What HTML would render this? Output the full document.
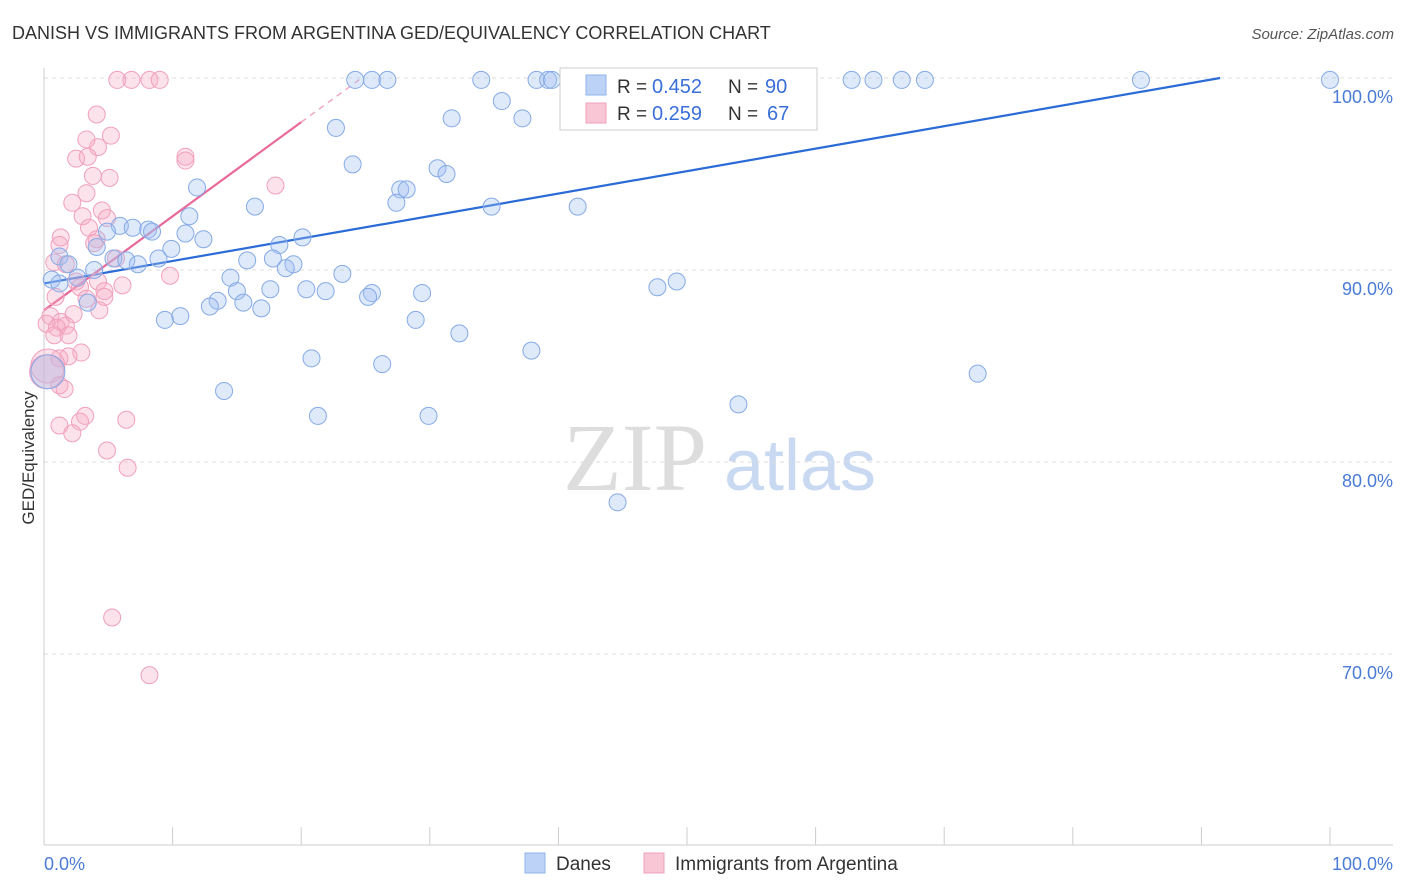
<!DOCTYPE html>
<html><head><meta charset="utf-8">
<style>
body{margin:0;background:#fff;font-family:"Liberation Sans",sans-serif;}
svg{display:block}
</style></head>
<body>
<svg id="chart" width="1406" height="892">
<text x="12" y="39" font-size="18" fill="#333">DANISH VS IMMIGRANTS FROM ARGENTINA GED/EQUIVALENCY CORRELATION CHART</text>
<text x="1394" y="39" font-size="15" fill="#555" font-style="italic" text-anchor="end">Source: ZipAtlas.com</text>
<text x="34" y="458" font-size="17" fill="#333" text-anchor="middle" transform="rotate(-90 34 458)">GED/Equivalency</text>
<g>
<text x="635" y="490" font-size="96" fill="#ddd" font-family="Liberation Serif, serif" text-anchor="middle">ZIP</text>
<text x="800" y="490" font-size="72" fill="#c9d9f2" text-anchor="middle">atlas</text>
</g>
<g id="grid"></g><g id="axes"></g><g id="lines"></g><g id="pts"></g>
<g>
<rect x="560" y="68" width="257" height="62" fill="#fff" stroke="#ccc"/>
<rect x="586" y="75" width="20" height="20" fill="#bcd3f7" stroke="#8fb3ea"/>
<text x="617" y="93" font-size="19" fill="#333">R =</text>
<text x="652" y="93" font-size="20" fill="#3a6fd8">0.452</text>
<text x="728" y="93" font-size="19" fill="#333">N =</text>
<text x="765" y="93" font-size="20" fill="#3a6fd8">90</text>
<rect x="586" y="103" width="20" height="20" fill="#f9c6d6" stroke="#f0a0bb"/>
<text x="617" y="120" font-size="19" fill="#333">R =</text>
<text x="652" y="120" font-size="20" fill="#3a6fd8">0.259</text>
<text x="728" y="120" font-size="19" fill="#333">N =</text>
<text x="767" y="120" font-size="20" fill="#3a6fd8">67</text>
</g>
<g>
<rect x="525" y="853" width="20" height="20" fill="#bcd3f7" stroke="#8fb3ea"/>
<text x="556" y="870" font-size="19" fill="#333">Danes</text>
<rect x="644" y="853" width="20" height="20" fill="#f9c6d6" stroke="#f0a0bb"/>
<text x="675" y="870" font-size="19" fill="#333">Immigrants from Argentina</text>
</g>
</svg>
<script>
const yTicks=[100,90,80,70];
const xTickLabels=["0.0%","100.0%"];
const danesX=[24.2,25.5,26.7,34.0,38.3,39.2,39.5,44.8,52.1,52.6,58.3,62.8,64.5,66.7,68.5,85.3,100,35.6,31.7,37.2,22.7,24.0,30.6,31.3,11.9,27.7,28.2,27.4,16.4,34.8,41.5,11.3,5.9,6.9,8.1,8.4,4.9,11.0,12.4,9.9,4.1,18.3,20.1,1.2,1.9,5.4,6.4,7.3,8.9,15.8,17.8,19.4,18.8,3.9,2.6,14.5,23.2,0.6,1.2,17.6,15.0,20.4,21.9,25.5,25.2,29.4,13.5,15.5,12.9,16.9,3.4,47.7,49.2,9.4,10.6,28.9,32.3,20.8,37.9,26.3,72.6,0.3,14.0,54.0,21.3,29.9,44.6];
const danesY=[99.9,99.9,99.9,99.9,99.9,99.9,99.9,99.9,99.9,99.9,99.9,99.9,99.9,99.9,99.9,99.9,99.9,98.8,97.9,97.9,97.4,95.5,95.3,95.0,94.3,94.2,94.2,93.5,93.3,93.3,93.3,92.8,92.3,92.2,92.1,92.0,92.0,91.9,91.6,91.1,91.2,91.3,91.7,90.7,90.3,90.6,90.5,90.3,90.6,90.5,90.6,90.3,90.1,90.0,89.6,89.6,89.8,89.5,89.3,89.0,88.9,89.0,88.9,88.8,88.6,88.8,88.4,88.3,88.1,88.0,88.3,89.1,89.4,87.4,87.6,87.4,86.7,85.4,85.8,85.1,84.6,84.7,83.7,83.0,82.4,82.4,77.9];
const argX=[5.7,6.8,8.2,9.0,4.1,5.2,4.2,3.3,2.5,3.4,11.0,11.0,18.0,5.1,3.8,3.3,2.2,4.5,3.0,4.9,3.5,1.3,4.1,1.2,3.9,5.6,0.8,1.7,9.8,2.5,4.2,2.8,6.1,4.7,4.7,3.3,0.9,4.3,2.3,0.5,1.3,1.7,0.2,1.0,0.8,1.9,2.9,1.9,1.2,0.3,0.2,1.2,1.6,3.2,1.2,2.8,6.4,2.2,4.9,6.5,5.3,8.2];
const argY=[99.9,99.9,99.9,99.9,98.1,97.0,96.4,96.8,95.8,95.9,95.9,95.7,94.4,94.8,94.9,94.0,93.5,93.1,92.8,92.7,92.2,91.7,91.6,91.3,91.4,90.6,90.4,90.3,89.7,89.4,89.4,89.1,89.2,88.9,88.6,88.5,88.6,87.9,87.7,87.6,87.3,87.1,87.2,87.0,86.6,86.6,85.7,85.5,85.4,85.0,84.7,84.0,83.8,82.4,81.9,82.1,82.2,81.5,80.6,79.7,71.9,68.9];
const danesTrend=[89.3,0.117];
const argTrend=[87.9,0.49];
const NS='http://www.w3.org/2000/svg';
const xs=v=>44+v*12.86, ys=v=>78+(100-v)*19.2;
function mk(t,a,p){const e=document.createElementNS(NS,t);for(const k in a)e.setAttribute(k,a[k]);p.appendChild(e);return e;}
const grid=document.getElementById('grid'),axes=document.getElementById('axes'),lines=document.getElementById('lines'),pts=document.getElementById('pts');
yTicks.forEach(t=>{
 const l=mk('line',{x1:44,x2:1393,y1:ys(t),y2:ys(t),stroke:'#ddd','stroke-dasharray':'4,4'},grid);
 
 
 const tx=mk('text',{x:1393,y:ys(t)+25,'font-size':18,fill:'#4a7bd6','text-anchor':'end'},grid);
 tx.textContent=t.toFixed(1)+'%';
 
 
});
mk('line',{x1:44,x2:44,y1:68,y2:845,stroke:'#ccc'},axes);
mk('line',{x1:44,x2:1393,y1:845,y2:845,stroke:'#ccc'},axes);
for(let i=0;i<=10;i++){mk('line',{x1:xs(i*10),x2:xs(i*10),y1:827,y2:845,stroke:'#ccc'},axes);}
const xl0=mk('text',{x:44,y:870,'font-size':18,fill:'#4a7bd6'},axes);xl0.textContent=xTickLabels[0];


const xl1=mk('text',{x:1393,y:870,'font-size':18,fill:'#4a7bd6','text-anchor':'end'},axes);xl1.textContent=xTickLabels[1];


function dots(X,Y,fill,stroke,name){X.forEach((x,i)=>{
 const big=(x<0.5&&Y[i]>84&&Y[i]<85.5);
 const c=mk('circle',{cx:xs(x),cy:ys(Y[i]),r:big?17:8.5,fill:fill,stroke:stroke,'stroke-width':1},pts);
 
 
});}
dots(argX,argY,'rgba(246,172,198,0.35)','#f0a0bb','point-argentina');
dots(danesX,danesY,'rgba(160,192,242,0.35)','#86aae6','point-danes');
const xEndB=(100-danesTrend[0])/danesTrend[1];
const bl=mk('line',{x1:xs(0),y1:ys(danesTrend[0]),x2:xs(xEndB),y2:ys(100),stroke:'#2a6bd6','stroke-width':2.2},lines);


const pl=mk('line',{x1:xs(0),y1:ys(argTrend[0]),x2:xs(20),y2:ys(argTrend[0]+argTrend[1]*20),stroke:'#e8699a','stroke-width':2.2},lines);


const xEndP=(100-argTrend[0])/argTrend[1];
const pd=mk('line',{x1:xs(20),y1:ys(argTrend[0]+argTrend[1]*20),x2:xs(xEndP),y2:ys(100),stroke:'#f2a6c0','stroke-width':1.5,'stroke-dasharray':'6,5'},lines);


</script>
</body></html>
